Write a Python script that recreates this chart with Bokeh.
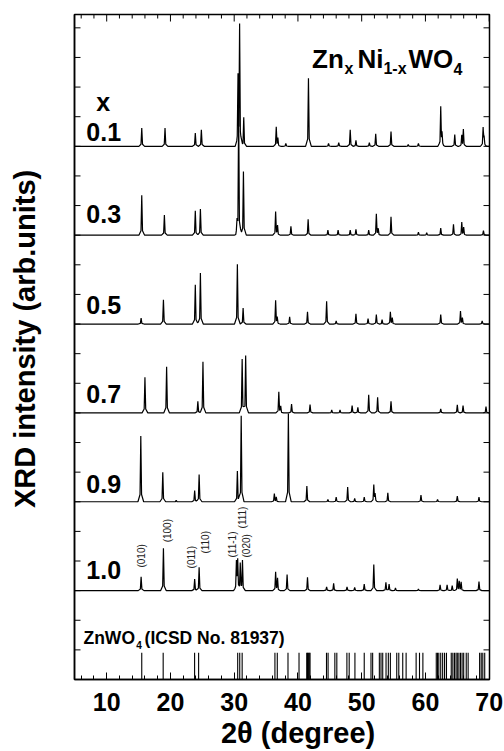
import numpy as np
from bokeh.plotting import figure
from bokeh.models import Range1d, FixedTicker, SingleIntervalTicker
from bokeh.core.properties import value
from bokeh.embed import file_html
from bokeh.resources import INLINE

FONT = "Liberation Sans"

# ---------------- data ----------------
compositions = ["0.1", "0.3", "0.5", "0.7", "0.9", "1.0"]
baselines = [18, 15, 12, 9, 6, 3]

pos_01 = [15.5, 19.15, 23.9, 24.85, 30.6, 30.85, 31.5, 36.6, 36.85, 38.1, 41.65, 44.8, 46.4, 48.2, 49.1,
          51.2, 52.2, 54.6, 57.3, 58.9, 62.4, 62.6, 64.6, 65.7, 65.95, 69.05, 69.2]
h_01 = [0.62, 0.62, 0.45, 0.56, 2.2, 4.0, 0.98, 0.64, 0.25, 0.1, 2.3, 0.1, 0.12, 0.56, 0.2,
        0.12, 0.42, 0.5, 0.06, 0.1, 1.32, 0.4, 0.4, 0.35, 0.56, 0.62, 0.3]

pos_03 = [15.5, 19.05, 23.9, 24.7, 30.45, 30.7, 31.45, 36.5, 36.8, 38.9, 41.6, 44.7, 46.3, 48.2, 49.1,
          51.1, 52.3, 52.6, 54.6, 58.9, 60.2, 62.4, 64.4, 65.7, 66.0, 69.1]
h_03 = [1.35, 0.68, 0.82, 0.88, 0.3, 4.2, 2.15, 0.78, 0.3, 0.3, 0.54, 0.17, 0.17, 0.17, 0.2,
        0.17, 0.71, 0.2, 0.62, 0.1, 0.08, 0.24, 0.37, 0.43, 0.25, 0.15]

pos_05 = [15.4, 18.9, 23.9, 24.7, 30.5, 31.4, 36.5, 36.75, 38.7, 41.5, 44.5, 46.0, 49.1, 51.0, 52.3,
          53.2, 54.5, 54.8, 62.4, 65.5, 65.8, 68.9]
h_05 = [0.2, 0.82, 1.33, 1.72, 2.02, 0.54, 0.79, 0.2, 0.24, 0.41, 0.77, 0.11, 0.35, 0.18, 0.32,
        0.15, 0.4, 0.2, 0.32, 0.43, 0.2, 0.11]

pos_07 = [16.0, 19.4, 24.3, 25.1, 31.25, 31.8, 37.0, 37.3, 39.0, 41.9, 45.3, 46.6, 48.5, 49.4, 51.1,
          52.5, 54.6, 62.4, 65.0, 65.9, 69.5]
h_07 = [1.2, 1.56, 0.39, 1.73, 1.82, 1.94, 0.7, 0.2, 0.3, 0.28, 0.1, 0.1, 0.25, 0.19, 0.61,
        0.53, 0.39, 0.14, 0.27, 0.25, 0.21]

pos_09 = [15.35, 18.8, 20.9, 23.8, 24.5, 30.5, 31.1, 36.3, 36.6, 38.5, 41.4, 44.7, 46.0, 47.8, 48.9,
          50.4, 51.9, 52.1, 54.1, 59.3, 61.9, 65.0, 68.4]
h_09 = [2.22, 1.0, 0.05, 0.38, 0.92, 1.04, 2.9, 0.27, 0.15, 2.98, 0.53, 0.08, 0.16, 0.5, 0.11,
        0.16, 0.56, 0.25, 0.3, 0.23, 0.08, 0.19, 0.16]

pos_10 = [15.4, 18.9, 23.8, 24.5, 30.35, 30.55, 30.95, 31.3, 36.5, 36.8, 38.3, 41.5, 44.5, 45.6, 47.7,
          48.9, 50.4, 51.9, 53.8, 54.3, 55.3, 58.9, 62.3, 63.4, 64.2, 65.0, 65.3, 65.6, 68.4]
h_10 = [0.47, 1.43, 0.39, 0.79, 0.95, 1.0, 0.9, 1.0, 0.62, 0.4, 0.54, 0.45, 0.13, 0.25, 0.13,
        0.11, 0.22, 0.88, 0.28, 0.22, 0.09, 0.05, 0.2, 0.2, 0.17, 0.39, 0.3, 0.28, 0.31]

# ICSD No. 81937 reference lines (2theta)
ref_pos = [15.50, 18.86, 23.79, 24.42, 30.55, 30.87, 31.25, 36.39, 36.76, 38.44, 40.17, 41.38, 41.5,
           41.64, 41.78, 41.9, 44.48, 44.73, 45.79, 46.1, 47.68, 48.04, 48.94, 50.4, 51.46, 51.72,
           52.77, 53.03, 53.3, 53.82, 54.18, 54.5, 55.5, 55.82, 56.44, 56.97, 58.54, 59.07, 59.6,
           61.7, 61.9, 62.1, 62.4, 62.7, 63.0, 63.3, 64.05, 64.3, 64.55, 64.8, 65.0, 65.25, 65.5,
           65.75, 66.0, 66.4, 66.7, 68.5, 68.75, 69.0, 69.3]
ref_h = 0.9

miller_labels = ["(010)", "(100)", "(011)", "(110)", "(11-1)", "(111)", "(020)"]
miller_x = [15.5, 19.5, 23.35, 25.47, 29.7, 31.27, 31.9]
miller_y = [3.78, 4.63, 3.75, 4.25, 4.12, 5.1, 4.12]

label_y = [18.47, 15.73, 12.63, 9.65, 6.61, 3.68]

x_major = [10, 20, 30, 40, 50, 60, 70]
x_minor = [6, 8, 12, 14, 16, 18, 22, 24, 26, 28, 32, 34, 36, 38, 42, 44, 46, 48,
           52, 54, 56, 58, 62, 64, 66, 68]
y_ticks = list(range(1, 23))

traces = [(pos_01, h_01), (pos_03, h_03), (pos_05, h_05), (pos_07, h_07), (pos_09, h_09), (pos_10, h_10)]

X0, X1 = 4.95, 70.05
Y0, Y1 = 0.0, 22.45
FW, FH = 415, 665
PX = (X1 - X0) / FW   # data units per pixel (x)
PY = (Y1 - Y0) / FH   # data units per pixel (y)


def profile(pos, hts, base):
    w1, w2 = 0.12, 0.45
    keys = {X0, X1}
    for c in pos:
        for d in (-w2, -w1, 0.0, w1, w2):
            keys.add(round(c + d, 4))
    xs = np.array(sorted(k for k in keys if X0 <= k <= X1))
    ys = np.full(xs.shape, float(base))
    for c, h in zip(pos, hts):
        ys += 0.85 * h * np.clip(1 - np.abs(xs - c) / w1, 0, None)
        ys += 0.15 * h * np.clip(1 - np.abs(xs - c) / w2, 0, None)
    return xs, ys


# ---------------- figure ----------------
p = figure(frame_width=FW, frame_height=FH, x_range=Range1d(X0, X1), y_range=Range1d(Y0, Y1),
           output_backend="svg", toolbar_location=None,
           min_border_left=74, min_border_right=15, min_border_top=14, min_border_bottom=72)
p.xgrid.visible = False
p.ygrid.visible = False
p.outline_line_color = "black"
p.outline_line_width = 1.5

xa = p.xaxis[0]
xa.ticker = SingleIntervalTicker(interval=10, num_minor_ticks=5)
xa.major_tick_in = 7
xa.major_tick_out = 0
xa.minor_tick_in = 4
xa.minor_tick_out = 0
xa.axis_line_width = 1.5
xa.major_label_text_font = FONT
xa.major_label_text_font_style = "bold"
xa.major_label_text_font_size = "25px"
xa.major_label_text_color = "black"
xa.major_label_standoff = 13
xa.axis_label = "\u00a0\u00a0\u00a0\u00a02θ (degree)"
xa.axis_label_text_font = FONT
xa.axis_label_text_font_style = "bold"
xa.axis_label_text_font_size = "29px"
xa.axis_label_text_color = "black"
xa.axis_label_standoff = 3

ya = p.yaxis[0]
ya.ticker = FixedTicker(ticks=[])
ya.major_tick_in = 0
ya.major_tick_out = 0
ya.minor_tick_in = 0
ya.minor_tick_out = 0
ya.axis_line_width = 1.5
ya.major_label_standoff = 0
ya.axis_label = "\u00a0\u00a0XRD intensity (arb.units)"
ya.axis_label_text_font = FONT
ya.axis_label_text_font_style = "bold"
ya.axis_label_text_font_size = "29px"
ya.axis_label_text_color = "black"
ya.axis_label_standoff = 34

# inner tick marks on the top, left and right edges
p.segment(x0=x_major, y0=[Y1] * len(x_major), x1=x_major, y1=[Y1 - 7 * PY] * len(x_major),
          line_color="black", line_width=1)
p.segment(x0=x_minor, y0=[Y1] * len(x_minor), x1=x_minor, y1=[Y1 - 4 * PY] * len(x_minor),
          line_color="black", line_width=1)
p.segment(x0=[X0] * len(y_ticks), y0=y_ticks, x1=[X0 + 6 * PX] * len(y_ticks), y1=y_ticks,
          line_color="black", line_width=1)
p.segment(x0=[X1] * len(y_ticks), y0=y_ticks, x1=[X1 - 6 * PX] * len(y_ticks), y1=y_ticks,
          line_color="black", line_width=1)

# patterns
for (pos, hts), base in zip(traces, baselines):
    xs, ys = profile(pos, hts, base)
    p.line(xs, ys, line_color="black", line_width=1.2)

# reference sticks
p.segment(x0=ref_pos, y0=[0] * len(ref_pos), x1=ref_pos, y1=[ref_h] * len(ref_pos),
          line_color="black", line_width=1.1)

# composition labels
p.text(x=[6.8] * len(compositions), y=label_y, text=compositions, text_font=value(FONT),
       text_font_style="bold", text_font_size="25px", text_align="left", text_baseline="alphabetic",
       text_color="black")
p.text(x=[8.35], y=[19.48], text=["x"], text_font=value(FONT), text_font_style="bold",
       text_font_size="25px", text_align="left", text_baseline="alphabetic", text_color="black")

# formula title Zn_x Ni_1-x WO_4
big = [("Zn", 42.22), ("Ni", 49.33), ("WO", 57.33)]
small = [("x", 47.3), ("1-x", 53.41), ("4", 64.4)]
p.text(x=[b[1] for b in big], y=[20.96] * 3, text=[b[0] for b in big], text_font=value(FONT),
       text_font_style="bold", text_font_size="26px", text_align="left", text_baseline="alphabetic")
p.text(x=[s[1] for s in small], y=[20.62] * 3, text=[s[0] for s in small], text_font=value(FONT),
       text_font_style="bold", text_font_size="16px", text_align="left", text_baseline="alphabetic")

# reference label
p.text(x=[6.36, 15.95], y=[1.385, 1.385], text=["ZnWO", "(ICSD No. 81937)"], text_font=value(FONT),
       text_font_style="bold", text_font_size="17.5px", text_align="left", text_baseline="alphabetic")
p.text(x=[14.63], y=[1.16], text=["4"], text_font=value(FONT), text_font_style="bold",
       text_font_size="10px", text_align="left", text_baseline="alphabetic")

# Miller indices
p.text(x=miller_x, y=miller_y, text=miller_labels, angle=np.pi / 2, text_font=value(FONT),
       text_font_size="10px", text_align="left", text_baseline="middle", text_color="#222222")

open("out.html", "w").write(file_html(p, INLINE))
